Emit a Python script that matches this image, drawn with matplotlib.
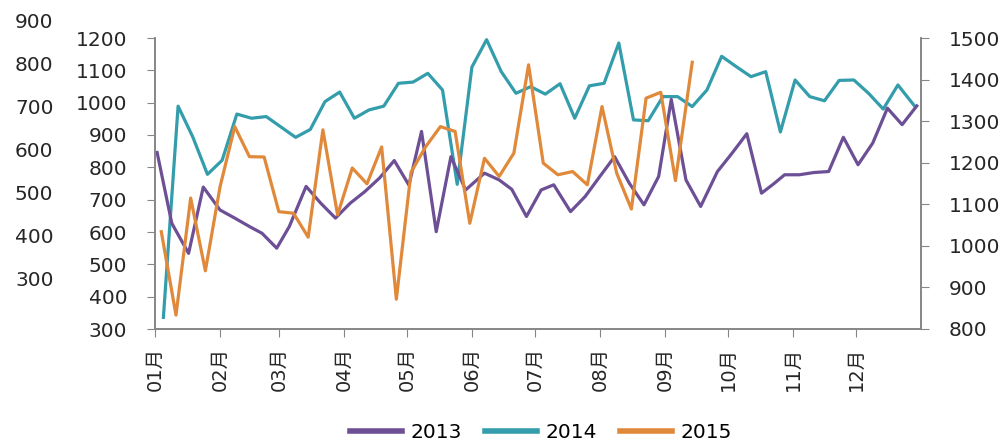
import matplotlib
matplotlib.use("Agg")
import matplotlib.pyplot as plt

plt.rcParams['font.family'] = ['DejaVu Sans', 'Noto Sans CJK SC']

# x positions are day of year (0 = Jan 1)
days_2013 = [1, 8, 16, 23, 31, 38, 45, 51, 58, 64, 72, 79, 86, 93, 100, 107, 114, 121,
             127, 134, 141, 148, 157, 164, 170, 177, 184, 190, 198, 205, 212, 219, 226,
             233, 240, 246, 253, 260, 268, 275, 282, 289, 295, 300, 307, 314, 321, 328,
             335, 342, 349, 356, 363]
vals_2013 = [846, 627, 534, 739, 668, 643, 617, 596, 550, 617, 741, 689, 643, 689, 725, 767,
             821, 745, 911, 601, 833, 730, 782, 761, 732, 648, 730, 746, 663, 710, 772, 833,
             751, 684, 772, 1010, 761, 679, 787, 844, 904, 720, 750, 777, 777, 784, 787,
             893, 808, 875, 983, 932, 990]

days_2014 = [4, 11, 18, 25, 32, 39, 46, 53, 60, 67, 74, 81, 88, 95, 102, 109, 116, 123,
             130, 137, 144, 151, 158, 165, 172, 179, 186, 193, 200, 207, 214, 221, 228,
             235, 242, 249, 256, 263, 270, 277, 284, 291, 298, 305, 312, 319, 326, 333,
             340, 347, 354, 362]
vals_2014 = [828, 1336, 1262, 1172, 1206, 1317, 1307, 1311, 1286, 1261, 1280, 1347, 1370,
             1307, 1327, 1336, 1391, 1394, 1415, 1375, 1148, 1430, 1496, 1419, 1367, 1383,
             1365, 1390, 1307, 1385, 1391, 1488, 1303, 1301, 1359, 1359, 1335, 1375, 1456,
             1431, 1407, 1419, 1274, 1399, 1359, 1349, 1398, 1399, 1367, 1329, 1387, 1336]

days_2015 = [3, 10, 17, 24, 31, 38, 45, 52, 59, 66, 73, 80, 87, 94, 101, 108, 115, 122,
             129, 136, 143, 150, 157, 164, 171, 178, 185, 192, 199, 206, 213, 220, 227,
             234, 241, 248, 256]
vals_2015 = [601, 343, 705, 480, 740, 926, 833, 832, 663, 658, 584, 916, 653, 798, 749, 863,
             392, 785, 864, 926, 911, 627, 828, 772, 844, 1117, 813, 777, 787, 746, 988,
             782, 671, 1014, 1032, 759, 1125]

month_starts = [0, 31, 59, 90, 120, 151, 181, 212, 243, 273, 304, 334]
month_labels = ['01月', '02月', '03月', '04月', '05月', '06月', '07月', '08月', '09月',
                '10月', '11月', '12月']
left_ticks = [300, 400, 500, 600, 700, 800, 900, 1000, 1100, 1200]
right_ticks = [800, 900, 1000, 1100, 1200, 1300, 1400, 1500]
outer_ticks = [300, 400, 500, 600, 700, 800, 900]

c13, c14, c15 = '#6d4f96', '#339dac', '#e0893a'
spine_c = '#868686'
txt_c = '#262626'
fs = 14.5

fig = plt.figure(figsize=(10.05, 4.43), dpi=100)
ax = fig.add_axes([155 / 1005, 1 - 329 / 443, 766 / 1005, 291 / 443])
ax2 = ax.twinx()

l13, = ax.plot(days_2013, vals_2013, color=c13, lw=2.3)
l15, = ax.plot(days_2015, vals_2015, color=c15, lw=2.3)
l14, = ax2.plot(days_2014, vals_2014, color=c14, lw=2.3)
ax.set_zorder(ax2.get_zorder() + 1)
ax.patch.set_visible(False)

ax.set_xlim(0, 365)
ax.set_ylim(300, 1200)
ax2.set_ylim(800, 1500)
ax.set_yticks(left_ticks)
ax2.set_yticks(right_ticks)
ax.set_xticks(month_starts)
ax.set_xticklabels(month_labels, rotation=90, fontsize=14)

for a in (ax, ax2):
    a.spines['top'].set_visible(False)
    for s in ('left', 'right', 'bottom'):
        a.spines[s].set_color(spine_c)
        a.spines[s].set_linewidth(1.2)
ax.tick_params(axis='y', length=6, color=spine_c, pad=14, labelsize=fs, labelcolor=txt_c)
ax2.tick_params(axis='y', length=6, color=spine_c, pad=14, labelsize=fs, labelcolor=txt_c)
ax.tick_params(axis='x', length=6, color=spine_c, pad=7, labelcolor=txt_c)

# outer left scale (labels only)
ax3 = fig.add_axes([59 / 1005, 1 - 279 / 443, 0.001, 258 / 443])
ax3.set_ylim(300, 900)
ax3.set_yticks(outer_ticks)
ax3.set_xticks([])
for s in ax3.spines.values():
    s.set_visible(False)
ax3.patch.set_visible(False)
ax3.tick_params(axis='y', length=0, pad=4, labelsize=fs, labelcolor=txt_c)

fig.legend([l13, l14, l15], ['2013', '2014', '2015'], ncol=3, loc='center',
           bbox_to_anchor=(541 / 1005, 1 - 433 / 443), frameon=False, fontsize=fs,
           handlelength=2.6, handletextpad=0.4, columnspacing=1.15, borderpad=0)
for h in fig.legends[0].get_lines():
    h.set_linewidth(4)

fig.savefig('out.png', dpi=100)
